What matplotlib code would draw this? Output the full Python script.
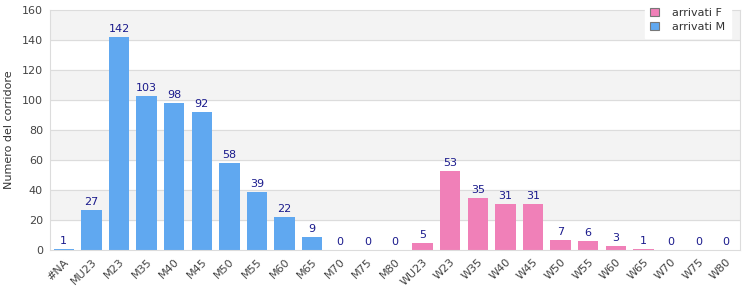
import numpy as np
import matplotlib.pyplot as plt

# data
categories = ["#NA", "MU23", "M23", "M35", "M40", "M45", "M50", "M55", "M60", "M65",
              "M70", "M75", "M80", "WU23", "W23", "W35", "W40", "W45", "W50", "W55",
              "W60", "W65", "W70", "W75", "W80"]
arrivati_m = [1, 27, 142, 103, 98, 92, 58, 39, 22, 9, 0, 0, 0]
arrivati_f = [5, 53, 35, 31, 31, 7, 6, 3, 1, 0, 0, 0]

col_m = "#60a8f0"
col_f = "#f080b8"
lab_col = "#1a1a8c"

n_m = len(arrivati_m)
x = np.arange(len(categories))

fig = plt.figure(figsize=(7.5, 3), dpi=100)
ax = fig.add_axes([50 / 750, 50 / 300, 690 / 750, 240 / 300])

# alternating bands
for lo in range(0, 160, 20):
    if (lo // 20) % 2 == 1:
        ax.axhspan(lo, lo + 20, color="#f3f3f3", zorder=0)
for y in range(20, 160, 20):
    ax.axhline(y, color="#dcdcdc", lw=0.8, zorder=1)

bm = ax.bar(x[:n_m], arrivati_m, width=0.74, color=col_m, zorder=2, label="arrivati M")
bf = ax.bar(x[n_m:], arrivati_f, width=0.74, color=col_f, zorder=2, label="arrivati F")

for xi, v in list(zip(x[:n_m], arrivati_m)) + list(zip(x[n_m:], arrivati_f)):
    ax.annotate(str(v), (xi, v), xytext=(0, 2), textcoords="offset points",
                ha="center", va="bottom", fontsize=8, color=lab_col)

ax.set_xlim(-0.5, len(categories) - 0.5)
ax.set_ylim(0, 160)
ax.set_yticks(range(0, 161, 20))
ax.set_xticks(x)
ax.set_xticklabels(categories, rotation=45, ha="right", rotation_mode="anchor")
ax.tick_params(axis="both", length=0, labelsize=8, colors="#444444")
ax.tick_params(axis="x", pad=5)
ax.tick_params(axis="y", pad=5)
for s in ax.spines.values():
    s.set_color("#dcdcdc")
ax.set_ylabel("Numero del corridore", fontsize=8, color="#333333", labelpad=6)

leg = ax.legend(handles=[bf, bm], loc="upper right", bbox_to_anchor=(0.995, 1.055),
                fontsize=8, frameon=True, fancybox=False, borderpad=0.5,
                handlelength=0.8, handleheight=0.8, labelspacing=0.35, handletextpad=1.2)
leg.get_frame().set_edgecolor("white")
leg.get_frame().set_facecolor("white")
leg.get_frame().set_alpha(1)
for h in leg.legend_handles:
    h.set_edgecolor("#777777")
    h.set_linewidth(0.8)
for t in leg.get_texts():
    t.set_color("#333333")

fig.savefig("out.png", dpi=100)
